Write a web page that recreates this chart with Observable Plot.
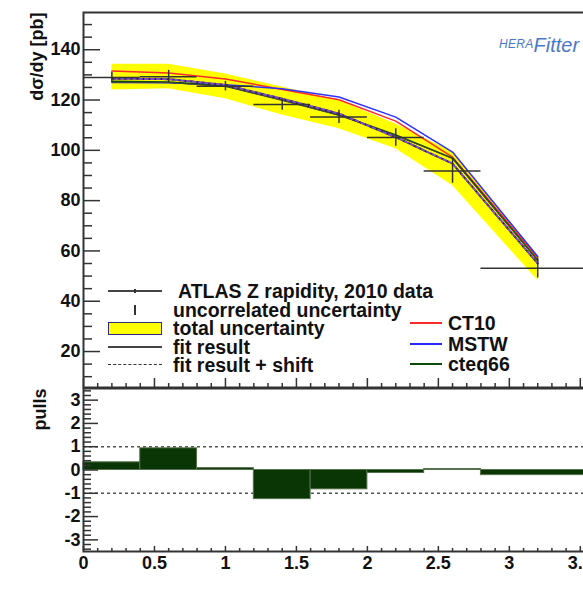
<!DOCTYPE html>
<html><head><meta charset="utf-8">
<script src="https://cdn.jsdelivr.net/npm/d3@7"></script>
<script src="https://cdn.jsdelivr.net/npm/@observablehq/plot@0.6"></script>
<style>
html,body{margin:0;padding:0;background:#fff;overflow:hidden;}
#wrap{position:relative;width:594px;height:589px;font-family:'Liberation Sans',Arial,sans-serif;}
#topPanel,#bottomPanel{position:absolute;left:0;}
#topPanel{top:0}
#bottomPanel{top:386px}
</style></head><body><div id="wrap"><div id="topPanel"></div><div id="bottomPanel"></div></div>
<script>
// ---- data ----
const binCenter = [0.2, 0.6, 1.0, 1.4, 1.8, 2.2, 2.6, 3.2];
const binLow    = [0.0, 0.4, 0.8, 1.2, 1.6, 2.0, 2.4, 2.8];
const binHigh   = [0.4, 0.8, 1.2, 1.6, 2.0, 2.4, 2.8, 3.6];
const dataXsec  = [129.0, 129.3, 125.5, 118.2, 113.3, 105.1, 91.8, 53.1];
const uncorrErr = [2.0, 2.5, 1.9, 2.3, 2.6, 3.5, 4.9, 3.9];
const totLow    = [124.0, 124.5, 120.5, 114.0, 108.6, 100.6, 86.0, 48.3];
const totHigh   = [134.2, 134.2, 130.3, 125.2, 119.8, 110.5, 99.3, 58.2];
const ct10      = [131.5, 130.7, 128.4, 124.2, 120.1, 111.6, 97.3, 57.3];
const mstw      = [127.0, 126.9, 126.1, 124.5, 121.2, 113.2, 99.3, 57.8];
const cteq66    = [127.4, 127.1, 125.6, 120.1, 114.1, 106.1, 96.9, 56.3];
const fitResult = [127.0, 126.9, 125.4, 119.8, 113.9, 105.9, 96.7, 56.2];
const fitShift  = [128.5, 128.3, 126.0, 120.5, 114.6, 105.2, 94.7, 55.0];
const pulls     = [0.33, 0.93, 0.08, -1.25, -0.83, -0.13, 0.04, -0.22];
const pullRefs  = [-1, 1];
const xTicks    = [0, 0.5, 1, 1.5, 2, 2.5, 3, 3.5];
const yTicksTop = [20, 40, 60, 80, 100, 120, 140];
const yTicksPull = [-3, -2, -1, 0, 1, 2, 3];
const leftLabels = ["ATLAS Z rapidity, 2010 data", "uncorrelated uncertainty", "total uncertainty", "fit result", "fit result + shift"];
const rightLabels = ["CT10", "MSTW", "cteq66"];
const rightColors = ["#ff2a2a", "#2828ff", "#0b4a0b"];

const rows = binCenter.map((x, i) => ({
  x, lo: binLow[i], hi: binHigh[i], v: dataXsec[i], e: uncorrErr[i],
  bl: totLow[i], bh: totHigh[i], ct10: ct10[i], mstw: mstw[i],
  cteq66: cteq66[i], fit: fitResult[i], shift: fitShift[i], p: pulls[i]
}));

const xMinor = d3.range(0.1, 3.6, 0.1).filter(v => Math.abs(v * 2 - Math.round(v * 2)) > 1e-6);
const yMinorTop = d3.range(10, 155, 5).filter(v => v % 20 !== 0);
const yMinorPull = d3.range(-3.4, 3.41, 0.2).filter(v => Math.abs(v - Math.round(v)) > 1e-6);

const font = {fontFamily: "'Liberation Sans', Arial, sans-serif", fontSize: "18px", fontWeight: "bold",
  color: "#111", background: "transparent", maxWidth: "none", overflow: "visible"};
const axCol = "#333";

const topPlot = Plot.plot({
  width: 594, height: 388, marginLeft: 83, marginRight: 0, marginTop: 12, marginBottom: 1,
  style: font,
  x: {domain: [0, 3.6]},
  y: {domain: [5.7, 154.8]},
  marks: [
    Plot.areaY(rows, {x: "x", y1: "bl", y2: "bh", fill: "#ffff00"}),
    Plot.lineY(rows, {x: "x", y: "ct10", stroke: "#ff2a2a", strokeWidth: 1.5}),
    Plot.lineY(rows, {x: "x", y: "mstw", stroke: "#3030ff", strokeWidth: 1.5}),
    Plot.lineY(rows, {x: "x", y: "cteq66", stroke: "#0b4a0b", strokeWidth: 1.6}),
    Plot.lineY(rows, {x: "x", y: "fit", stroke: "#444", strokeWidth: 1}),
    Plot.lineY(rows, {x: "x", y: "shift", stroke: "#222", strokeWidth: 2, strokeDasharray: "3,3"}),
    Plot.lineY(rows, {x: "x", y: "shift", stroke: "#7a48c8", strokeWidth: 2, strokeDasharray: "3,3", strokeDashoffset: 3}),
    Plot.ruleY(rows, {y: "v", x1: "lo", x2: "hi", stroke: "#333", strokeWidth: 1.5}),
    Plot.ruleX(rows, {x: "x", y1: d => d.v - d.e, y2: d => d.v + d.e, stroke: "#333", strokeWidth: 1.5}),
    Plot.axisY({ticks: yTicksTop, tickSize: 0, tickPadding: 3, label: null, tickFormat: d => String(d), fill: "#111"}),
    Plot.axisY({ticks: yTicksTop, tickSize: -17, fill: "none", stroke: axCol, strokeWidth: 1.5}),
    Plot.axisY({ticks: yMinorTop, tickSize: -9, fill: "none", stroke: axCol, strokeWidth: 1.5}),
    Plot.axisX({ticks: xTicks, tickSize: -9, fill: "none", stroke: axCol, strokeWidth: 1.5}),
    Plot.axisX({ticks: xMinor, tickSize: -4, fill: "none", stroke: axCol, strokeWidth: 1.5}),
    Plot.frame({stroke: axCol, strokeWidth: 2}),
    Plot.text(["dσ/dy [pb]"], {frameAnchor: "top-left", rotate: -90, textAnchor: "end", dx: -53, fill: "#111"})
  ]
});
document.getElementById("topPanel").appendChild(topPlot);

const bottomPlot = Plot.plot({
  width: 594, height: 203, marginLeft: 83, marginRight: 0, marginTop: 2, marginBottom: 38,
  style: font,
  x: {domain: [0, 3.6]},
  y: {domain: [-3.5, 3.5]},
  marks: [
    Plot.ruleY(pullRefs, {stroke: "#555", strokeWidth: 1.5, strokeDasharray: "3,3"}),
    Plot.rectY(rows, {x1: "lo", x2: "hi", y1: 0, y2: "p", fill: "#0a3505", stroke: "#56704c", strokeWidth: 1}),
    Plot.axisY({ticks: yTicksPull, tickSize: 0, tickPadding: 3, label: null, tickFormat: d => String(d), fill: "#111"}),
    Plot.axisY({ticks: yTicksPull, tickSize: -15, fill: "none", stroke: axCol, strokeWidth: 1.5}),
    Plot.axisY({ticks: yMinorPull, tickSize: -8, fill: "none", stroke: axCol, strokeWidth: 1.5}),
    Plot.axisX({ticks: xTicks, tickSize: 0, tickPadding: 5, label: null, tickFormat: d => String(d), fill: "#111"}),
    Plot.axisX({ticks: xTicks, tickSize: -5, fill: "none", stroke: axCol, strokeWidth: 1.5}),
    Plot.axisX({ticks: xMinor, tickSize: -3, fill: "none", stroke: axCol, strokeWidth: 1.5}),
    Plot.frame({stroke: axCol, strokeWidth: 2}),
    Plot.text(["pulls"], {frameAnchor: "top-left", rotate: -90, textAnchor: "end", dx: -50, fill: "#111"})
  ]
});
document.getElementById("bottomPanel").appendChild(bottomPlot);

// ---- legend & logo (HTML overlay) ----
const wrap = document.getElementById("wrap");
function addDiv(css, text) {
  const d = document.createElement("div");
  d.style.cssText = "position:absolute;box-sizing:border-box;" + css;
  if (text != null) d.textContent = text;
  wrap.appendChild(d);
  return d;
}
const legText = "font-weight:bold;font-size:19.5px;line-height:18px;height:18px;white-space:nowrap;color:#111;";
const leftRowY = [291, 309.5, 328, 346.5, 365];
leftLabels.forEach((t, i) => addDiv(`left:${i === 0 ? 178 : 173}px;top:${leftRowY[i] - 9}px;` + legText, t));
addDiv(`left:108px;top:${leftRowY[0] - 1}px;width:54px;height:2px;background:#444;`);
addDiv(`left:134px;top:${leftRowY[0] - 2}px;width:2px;height:4px;background:#333;`);
addDiv(`left:134px;top:${leftRowY[1] - 5}px;width:2px;height:10px;background:#333;`);
addDiv(`left:108px;top:${leftRowY[2] - 6.5}px;width:54px;height:13px;background:#ffff00;border:1.5px solid #2b2b7a;`);
addDiv(`left:108px;top:${leftRowY[3] - 1}px;width:54px;height:2px;background:#444;`);
addDiv(`left:108px;top:${leftRowY[4] - 1}px;width:54px;height:0;border-top:1.5px dashed #333;`);
const rightRowY = [323, 343.5, 364];
rightLabels.forEach((t, i) => {
  addDiv(`left:410px;top:${Math.round(rightRowY[i]) - 1}px;width:32px;height:2px;background:${rightColors[i]};`);
  addDiv(`left:448px;top:${rightRowY[i] - 9}px;` + legText, t);
});
const logo = addDiv("left:499px;top:34px;line-height:22px;white-space:nowrap;color:#4a78c8;font-style:italic;");
logo.innerHTML = '<span style="font-size:12px;position:relative;top:-4px;letter-spacing:0.3px">HERA</span><span style="font-size:20px">Fitter</span>';
</script></body></html>
